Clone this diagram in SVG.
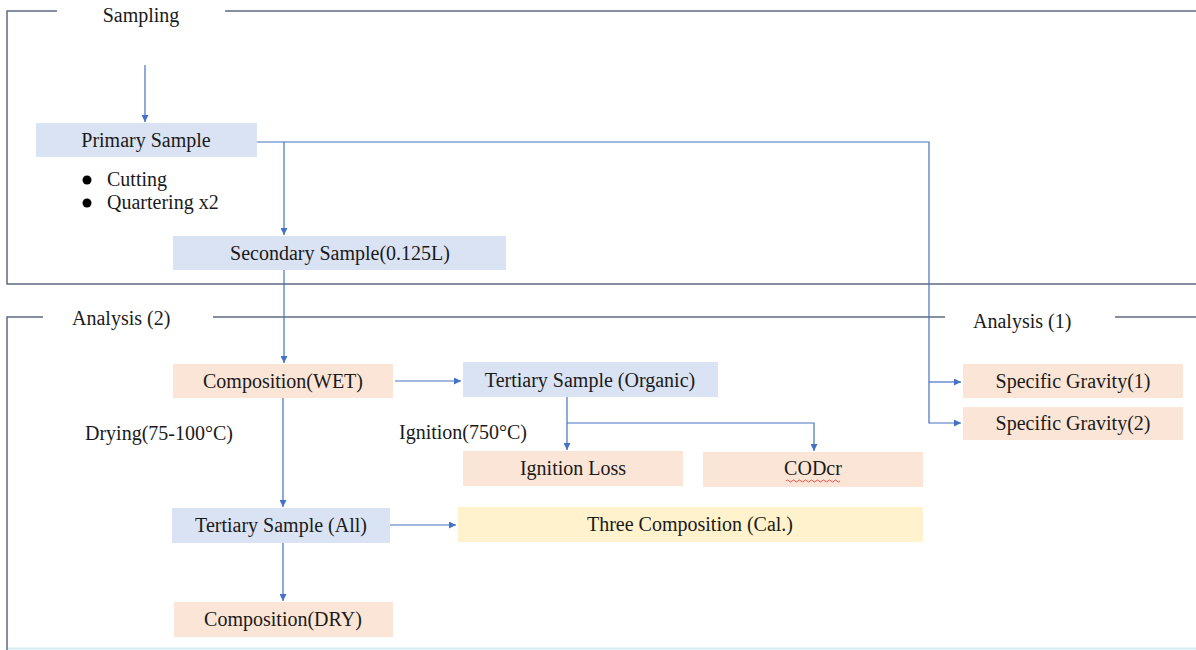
<svg xmlns="http://www.w3.org/2000/svg" width="1196" height="650" viewBox="0 0 1196 650" font-family="'Liberation Serif', 'Times New Roman', Tinos, 'Noto Serif', 'DejaVu Serif', Georgia, serif" font-size="20">
  <defs>
    <marker id="arrow" viewBox="0 0 10 10" refX="10" refY="5" markerWidth="7" markerHeight="7" markerUnits="userSpaceOnUse" orient="auto">
      <path d="M0 0 L10 5 L0 10 Z" fill="#4472c4"/>
    </marker>
    <style>
      text { fill: #1a1a1a; }
      .mid { text-anchor: middle; }
      .blue { fill: #dae3f3; }
      .peach { fill: #fbe5d6; }
      .yellow { fill: #fff2cc; }
      .frame { fill: none; stroke: #5f6b80; stroke-width: 1.5; }
      .conn { fill: none; stroke: #4472c4; stroke-width: 1.2; }
      .arr { marker-end: url(#arrow); }
    </style>
  </defs>
  <rect width="1196" height="650" fill="#ffffff"/>

  <!-- section frames with their titles -->
  <g id="frames">
    <path class="frame" d="M57 11 H7 V284 H1196 M225 11 H1196"/>
    <path class="frame" d="M43 317 H7 V650 M213 317 H945 M1115 317 H1196"/>
    <path d="M8 648.5 H1196" fill="none" stroke="#d3ebf1" stroke-width="2"/>
    <text class="mid" x="141" y="22">Sampling</text>
    <text x="72" y="325">Analysis (2)</text>
    <text x="973" y="328">Analysis (1)</text>
  </g>

  <!-- connectors -->
  <g id="connectors">
    <path class="conn arr" d="M145 65 V122"/>
    <path class="conn arr" d="M257 142 H929 V423 H961"/>
    <path class="conn arr" d="M929 382 H961"/>
    <path class="conn arr" d="M284 142 V235"/>
    <path class="conn arr" d="M284 270 V363"/>
    <path class="conn arr" d="M395 381 H461"/>
    <path class="conn arr" d="M567 397 V450"/>
    <path class="conn arr" d="M567 423 H814 V451"/>
    <path class="conn arr" d="M283 398 V507"/>
    <path class="conn arr" d="M389 525 H456"/>
    <path class="conn arr" d="M283 543 V601"/>
  </g>

  <!-- nodes -->
  <g id="primary-sample">
    <rect class="blue" x="36" y="123" width="221" height="34"/>
    <text class="mid" x="146" y="147">Primary Sample</text>
  </g>
  <g id="primary-steps">
    <circle cx="87" cy="180" r="4.5" fill="#000"/>
    <circle cx="87" cy="203" r="4.5" fill="#000"/>
    <text x="107" y="186">Cutting</text>
    <text x="107" y="209">Quartering x2</text>
  </g>
  <g id="secondary-sample">
    <rect class="blue" x="173" y="236" width="333" height="34"/>
    <text class="mid" x="340" y="260">Secondary Sample(0.125L)</text>
  </g>
  <g id="composition-wet">
    <rect class="peach" x="173" y="364" width="220" height="34"/>
    <text class="mid" x="283" y="388">Composition(WET)</text>
  </g>
  <g id="drying-label">
    <text x="85" y="440">Drying(75-100°C)</text>
  </g>
  <g id="tertiary-organic">
    <rect class="blue" x="463" y="362" width="255" height="35"/>
    <text class="mid" x="590" y="387">Tertiary Sample (Organic)</text>
  </g>
  <g id="ignition-label">
    <text x="399" y="439">Ignition(750°C)</text>
  </g>
  <g id="ignition-loss">
    <rect class="peach" x="463" y="451" width="220" height="35"/>
    <text class="mid" x="573" y="475">Ignition Loss</text>
  </g>
  <g id="codcr">
    <rect class="peach" x="703" y="452" width="220" height="35"/>
    <text class="mid" x="813" y="475">CODcr</text>
    <path d="M786 481 q1.5 -2 3 0 t3 0 t3 0 t3 0 t3 0 t3 0 t3 0 t3 0 t3 0 t3 0 t3 0 t3 0 t3 0 t3 0 t3 0 t3 0 t3 0 t3 0" fill="none" stroke="#e0443e" stroke-width="0.9"/>
  </g>
  <g id="tertiary-all">
    <rect class="blue" x="172" y="508" width="218" height="35"/>
    <text class="mid" x="281" y="532">Tertiary Sample (All)</text>
  </g>
  <g id="three-composition">
    <rect class="yellow" x="458" y="507" width="465" height="35"/>
    <text class="mid" x="690" y="531">Three Composition (Cal.)</text>
  </g>
  <g id="composition-dry">
    <rect class="peach" x="174" y="602" width="219" height="35"/>
    <text class="mid" x="283" y="626">Composition(DRY)</text>
  </g>
  <g id="specific-gravity-1">
    <rect class="peach" x="963" y="364" width="220" height="34"/>
    <text class="mid" x="1073" y="388">Specific Gravity(1)</text>
  </g>
  <g id="specific-gravity-2">
    <rect class="peach" x="963" y="407" width="220" height="33"/>
    <text class="mid" x="1073" y="430">Specific Gravity(2)</text>
  </g>
</svg>
